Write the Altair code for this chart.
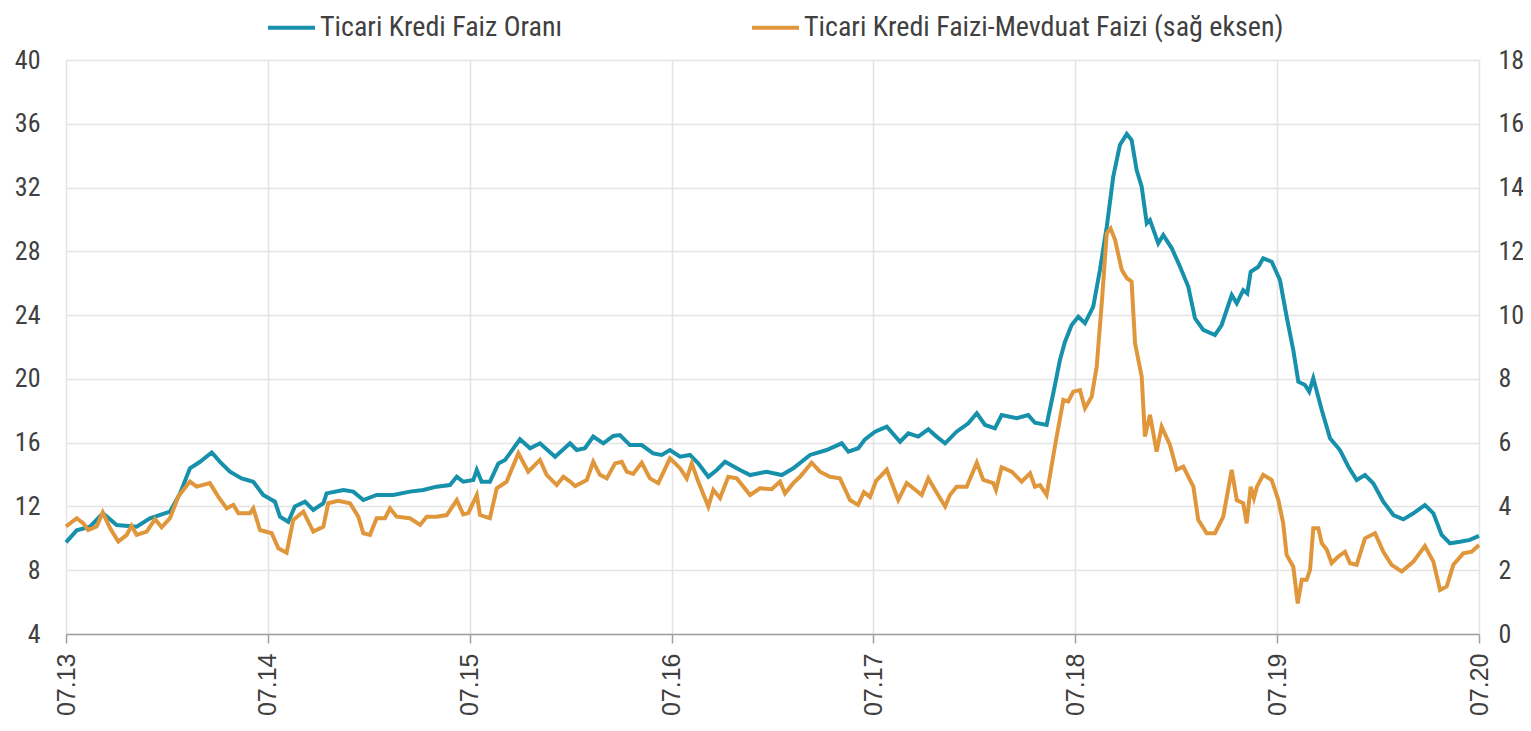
import altair as alt
import pandas as pd

# years since 07.13 and values
t_blue = [0.000,0.053,0.119,0.183,0.251,0.350,0.416,0.515,0.565,0.614,0.664,0.722,0.763,0.812,0.870,0.928,0.977,
          1.035,1.060,1.101,1.134,1.184,1.225,1.275,1.291,1.374,1.423,1.473,1.539,1.621,1.704,1.770,1.836,1.902,
          1.936,1.968,2.018,2.035,2.059,2.100,2.142,2.175,2.249,2.299,2.348,2.423,2.497,2.530,2.571,2.612,2.662,
          2.711,2.744,2.794,2.852,2.909,2.951,2.992,3.042,3.091,3.132,3.182,3.224,3.265,3.339,3.389,3.471,3.546,
          3.603,3.686,3.768,3.843,3.876,3.925,3.958,4.008,4.066,4.132,4.173,4.222,4.272,4.313,4.355,4.412,4.470,
          4.512,4.553,4.602,4.635,4.710,4.767,4.800,4.858,4.891,4.924,4.949,4.982,5.015,5.048,5.089,5.122,5.156,
          5.188,5.221,5.255,5.279,5.304,5.329,5.354,5.370,5.411,5.436,5.478,5.519,5.560,5.593,5.634,5.692,5.725,
          5.775,5.800,5.832,5.852,5.869,5.907,5.931,5.973,6.014,6.047,6.080,6.105,6.138,6.159,6.179,6.221,6.262,
          6.311,6.353,6.394,6.435,6.476,6.526,6.576,6.625,6.675,6.732,6.774,6.815,6.856,6.906,6.955,7.000]
v_blue = [9.75,10.50,10.73,11.57,10.83,10.73,11.25,11.67,12.82,14.39,14.80,15.39,14.80,14.18,13.76,13.55,12.72,
          12.30,11.36,11.04,12.00,12.30,11.78,12.20,12.82,13.03,12.93,12.40,12.72,12.72,12.93,13.03,13.24,13.34,
          13.86,13.55,13.66,14.29,13.55,13.55,14.70,14.91,16.21,15.65,15.96,15.12,15.96,15.54,15.65,16.38,15.96,
          16.42,16.48,15.85,15.85,15.33,15.23,15.54,15.12,15.23,14.70,13.86,14.29,14.80,14.29,13.97,14.18,13.97,
          14.39,15.23,15.54,15.96,15.43,15.65,16.21,16.69,17.00,16.06,16.59,16.38,16.84,16.38,15.96,16.69,17.21,
          17.84,17.11,16.90,17.73,17.53,17.73,17.25,17.11,19.10,21.18,22.33,23.38,23.90,23.49,24.53,26.83,29.55,
          32.68,34.67,35.36,34.98,33.10,32.05,29.76,29.96,28.50,29.02,28.19,27.03,25.78,23.80,23.07,22.75,23.38,
          25.26,24.74,25.57,25.36,26.72,27.03,27.56,27.35,26.20,23.90,21.81,19.82,19.62,19.20,20.04,18.05,16.27,
          15.54,14.49,13.66,13.97,13.45,12.30,11.46,11.19,11.57,12.09,11.57,10.21,9.69,9.79,9.90,10.15]

t_orange = [0.000,0.053,0.086,0.110,0.152,0.182,0.218,0.259,0.301,0.325,0.350,0.400,0.441,0.474,0.515,0.556,0.614,
            0.647,0.713,0.754,0.796,0.829,0.854,0.912,0.928,0.961,1.019,1.052,1.093,1.126,1.176,1.225,1.275,1.299,
            1.349,1.407,1.448,1.473,1.506,1.539,1.580,1.605,1.638,1.704,1.754,1.787,1.836,1.886,1.936,1.968,1.993,
            2.035,2.051,2.100,2.134,2.183,2.241,2.290,2.348,2.381,2.431,2.464,2.497,2.522,2.580,2.612,2.645,2.679,
            2.720,2.753,2.778,2.810,2.852,2.893,2.934,2.992,3.042,3.075,3.100,3.132,3.182,3.207,3.240,3.281,3.323,
            3.389,3.438,3.496,3.537,3.562,3.603,3.636,3.694,3.735,3.785,3.834,3.884,3.924,3.953,3.983,4.013,4.066,
            4.123,4.165,4.198,4.239,4.272,4.305,4.355,4.379,4.412,4.462,4.512,4.544,4.594,4.607,4.635,4.685,4.734,
            4.776,4.800,4.825,4.858,4.899,4.941,4.965,4.990,5.023,5.048,5.081,5.106,5.131,5.156,5.175,5.197,5.230,
            5.255,5.279,5.296,5.329,5.345,5.370,5.403,5.428,5.469,5.502,5.535,5.585,5.609,5.651,5.692,5.733,5.775,
            5.800,5.832,5.849,5.869,5.885,5.900,5.931,5.973,6.006,6.030,6.047,6.080,6.102,6.122,6.146,6.163,6.179,
            6.204,6.221,6.246,6.270,6.303,6.336,6.361,6.394,6.435,6.485,6.526,6.567,6.617,6.675,6.732,6.774,6.807,
            6.840,6.873,6.922,6.964,7.000]
v_orange = [3.37,3.63,3.47,3.26,3.37,3.81,3.32,2.90,3.11,3.39,3.11,3.21,3.60,3.35,3.63,4.31,4.78,
            4.62,4.73,4.31,3.94,4.05,3.79,3.79,3.94,3.26,3.16,2.69,2.55,3.58,3.84,3.21,3.37,4.10,
            4.18,4.10,3.68,3.16,3.11,3.63,3.63,3.94,3.68,3.63,3.42,3.68,3.68,3.73,4.20,3.75,3.79,
            4.36,3.73,3.63,4.57,4.78,5.67,5.09,5.46,4.99,4.67,4.93,4.78,4.64,4.83,5.40,4.99,4.88,
            5.35,5.40,5.09,5.02,5.37,4.88,4.73,5.51,5.20,4.88,5.35,4.78,4.00,4.52,4.26,4.93,4.88,
            4.36,4.57,4.54,4.78,4.41,4.73,4.93,5.37,5.09,4.93,4.88,4.20,4.05,4.45,4.30,4.80,5.15,
            4.20,4.73,4.57,4.36,4.88,4.52,4.00,4.36,4.62,4.62,5.37,4.83,4.73,4.52,5.23,5.09,4.78,
            5.04,4.62,4.67,4.36,5.88,7.34,7.29,7.60,7.65,7.08,7.44,8.38,10.37,12.57,12.72,12.36,11.42,
            11.16,11.05,9.12,8.07,6.19,6.87,5.72,6.50,5.93,5.15,5.25,4.62,3.58,3.16,3.16,3.68,5.15,
            4.20,4.10,3.47,4.62,4.26,4.62,4.99,4.83,4.20,3.47,2.48,2.11,0.96,1.70,1.70,2.01,3.32,
            3.32,2.85,2.64,2.22,2.43,2.58,2.22,2.17,3.00,3.16,2.58,2.17,1.96,2.27,2.76,2.27,1.38,
            1.49,2.17,2.53,2.58,2.79]

series_names = ["Ticari Kredi Faiz Oranı", "Ticari Kredi Faizi-Mevduat Faizi (sağ eksen)"]
series_colors = ["#1690AB", "#E0963A"]
x_ticks = [2013.5 + i for i in range(8)]
left_ticks = list(range(4, 41, 4))
right_ticks = list(range(0, 19, 2))

df_blue = pd.DataFrame({"x": [2013.5 + t for t in t_blue], "v": v_blue, "s": series_names[0]})
df_orange = pd.DataFrame({"x": [2013.5 + t for t in t_orange], "v": v_orange, "s": series_names[1]})

NARROW = "Liberation Sans Narrow, Roboto Condensed, DejaVu Sans Condensed, Lato"

x_enc = alt.X("x:Q", title=None,
              scale=alt.Scale(domain=[2013.5, 2020.5], nice=False, zero=False),
              axis=alt.Axis(values=x_ticks,
                            labelExpr="'07.' + slice(toString(floor(datum.value)), 2)",
                            labelAngle=270, labelFont="Liberation Sans", labelFontSize=25,
                            labelColor="#404040", labelPadding=10,
                            grid=True, gridColor="#e4e4e4", gridWidth=1.5,
                            domainColor="#a0a0a0", domainWidth=1.5,
                            tickColor="#a0a0a0", tickWidth=1.5, tickSize=9))

color_enc = alt.Color("s:N", title=None,
                      scale=alt.Scale(domain=series_names, range=series_colors),
                      legend=alt.Legend(orient="none", legendX=200, legendY=-58, direction="horizontal",
                                        symbolType="stroke", symbolSize=2209, symbolStrokeWidth=4,
                                        labelFont=NARROW, labelFontSize=28, labelColor="#404040",
                                        labelOffset=3, columnPadding=181, padding=0, labelLimit=700))

blue = alt.Chart(df_blue).mark_line(strokeWidth=4).encode(
    x=x_enc,
    y=alt.Y("v:Q", title=None,
            scale=alt.Scale(domain=[4, 40], nice=False, zero=False),
            axis=alt.Axis(values=left_ticks, grid=True, gridColor="#e4e4e4", gridWidth=1.5,
                          domain=False, ticks=False, labelPadding=26,
                          labelFont=NARROW, labelFontSize=26, labelColor="#404040")),
    color=color_enc,
)

orange = alt.Chart(df_orange).mark_line(strokeWidth=4).encode(
    x=x_enc,
    y=alt.Y("v:Q", title=None,
            scale=alt.Scale(domain=[0, 18], nice=False, zero=False),
            axis=alt.Axis(orient="right", values=right_ticks, grid=False,
                          domain=False, ticks=False, labelPadding=19,
                          labelFont=NARROW, labelFontSize=26, labelColor="#404040")),
    color=color_enc,
)

chart = alt.layer(blue, orange).resolve_scale(y="independent").properties(
    width=1413, height=574,
    padding={"left": 58, "top": 52, "right": 44, "bottom": 88},
    autosize=alt.AutoSizeParams(type="none"),
    background="white",
).configure_view(stroke=None)

chart.save("out.html", embed_options={"renderer": "svg", "actions": False})
